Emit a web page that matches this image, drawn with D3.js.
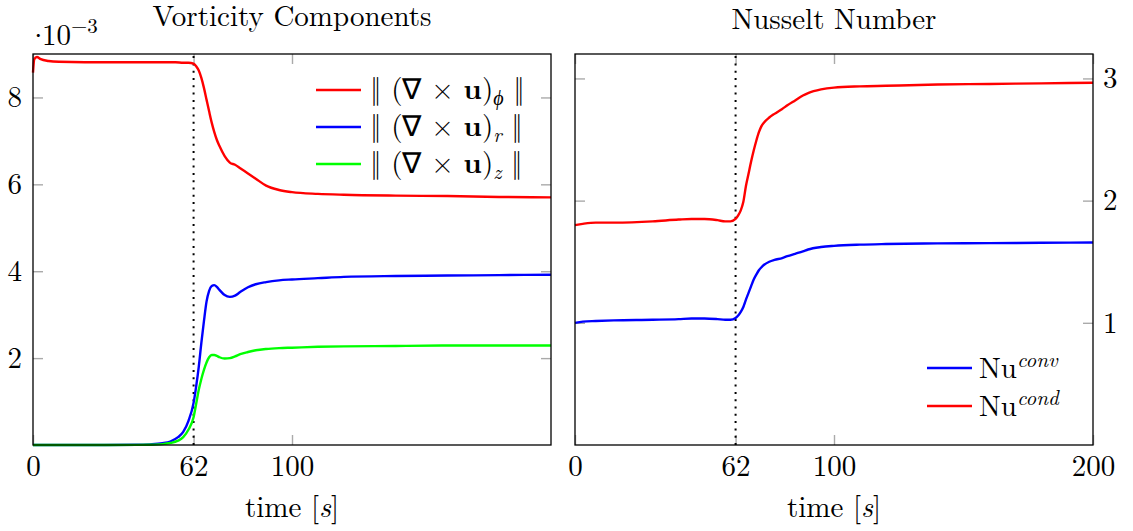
<!DOCTYPE html>
<html>
<head>
<meta charset="utf-8">
<script src="https://cdn.jsdelivr.net/npm/d3@7"></script>
<style>
  body { margin: 0; background: #fff; }
</style>
</head>
<body>
<svg id="chart" width="1133" height="531"></svg>
<script>
// vorticity components (values x 1e-3)
var vortTimePhi = [0, 0.5, 1.5, 3, 6, 10, 20, 30, 40, 50, 55, 58, 60, 62, 63, 64, 65, 66, 67, 68, 69, 70, 71, 72, 74, 76, 78, 80, 83, 86, 90, 95, 100, 110, 120, 140, 160, 180, 200];
var vortPhi = [8.57, 8.88, 8.93, 8.88, 8.84, 8.82, 8.81, 8.81, 8.81, 8.81, 8.81, 8.80, 8.80, 8.78, 8.72, 8.62, 8.45, 8.22, 7.95, 7.68, 7.42, 7.20, 7.02, 6.88, 6.65, 6.50, 6.45, 6.37, 6.25, 6.13, 5.97, 5.87, 5.82, 5.78, 5.76, 5.74, 5.73, 5.71, 5.70];
var vortTimeRZ = [0, 20, 40, 45, 50, 53, 56, 58, 60, 62, 63, 64, 65, 66, 67, 68, 69, 70, 71, 72, 74, 76, 78, 80, 83, 86, 90, 95, 100, 110, 120, 140, 160, 180, 200];
var vortR = [0, 0, 0.005, 0.015, 0.04, 0.08, 0.18, 0.30, 0.55, 0.97, 1.35, 1.80, 2.35, 2.85, 3.30, 3.55, 3.66, 3.68, 3.64, 3.57, 3.45, 3.41, 3.44, 3.52, 3.63, 3.70, 3.75, 3.79, 3.81, 3.84, 3.87, 3.89, 3.90, 3.91, 3.92];
var vortZ = [0, 0, 0.002, 0.006, 0.02, 0.045, 0.10, 0.18, 0.35, 0.64, 0.95, 1.27, 1.52, 1.73, 1.90, 2.02, 2.07, 2.07, 2.05, 2.02, 1.99, 2.00, 2.04, 2.09, 2.14, 2.18, 2.21, 2.23, 2.24, 2.26, 2.27, 2.28, 2.29, 2.29, 2.29];

// nusselt numbers
var nuTime = [0, 3, 8, 15, 30, 40, 45, 50, 55, 58, 60, 62, 63, 64, 65, 66, 67, 68, 69, 70, 71, 72, 73, 75, 77, 80, 82, 85, 88, 90, 95, 100, 110, 120, 140, 160, 180, 200];
var nuConv = [1.00, 1.01, 1.015, 1.02, 1.025, 1.03, 1.035, 1.035, 1.03, 1.025, 1.025, 1.04, 1.06, 1.09, 1.13, 1.19, 1.245, 1.30, 1.355, 1.395, 1.43, 1.455, 1.475, 1.50, 1.515, 1.53, 1.545, 1.565, 1.585, 1.60, 1.62, 1.63, 1.64, 1.645, 1.65, 1.652, 1.655, 1.657];
var nuCond = [1.80, 1.81, 1.82, 1.82, 1.83, 1.845, 1.85, 1.85, 1.84, 1.83, 1.83, 1.85, 1.88, 1.92, 1.99, 2.12, 2.22, 2.32, 2.41, 2.49, 2.56, 2.61, 2.64, 2.68, 2.71, 2.75, 2.78, 2.82, 2.86, 2.88, 2.91, 2.925, 2.935, 2.94, 2.95, 2.955, 2.96, 2.965];

var leftTicksX = [0, 62, 100];
var leftTicksY = [2, 4, 6, 8];
var rightTicksX = [0, 62, 100, 200];
var rightTicksY = [1, 2, 3];
var switchTime = 62;

var fontSize = 29;
var svg = d3.select("#chart")
    .style("font-family", "'Latin Modern Roman', 'Liberation Serif', serif");

function drawFrame(x, y, ticksX, ticksY, labelSide) {
    var g = svg.append("g");
    var x0 = x.range()[0], x1 = x.range()[1];
    var y0 = y.range()[0], y1 = y.range()[1];

    // tick marks: inside, gray, on all four sides
    var bottom = g.append("g").attr("transform", "translate(0," + y0 + ")")
        .call(d3.axisBottom(x).tickValues(ticksX).tickSizeInner(-10).tickSizeOuter(0).tickPadding(10).tickFormat(d3.format("d")));
    var top = g.append("g").attr("transform", "translate(0," + y1 + ")")
        .call(d3.axisTop(x).tickValues(ticksX).tickSizeInner(-10).tickSizeOuter(0).tickFormat(""));
    var left = g.append("g").attr("transform", "translate(" + x0 + ",0)")
        .call(d3.axisLeft(y).tickValues(ticksY).tickSizeInner(-10).tickSizeOuter(0).tickPadding(11).tickFormat(labelSide == "left" ? d3.format("d") : ""));
    var right = g.append("g").attr("transform", "translate(" + x1 + ",0)")
        .call(d3.axisRight(y).tickValues(ticksY).tickSizeInner(-10).tickSizeOuter(0).tickPadding(10).tickFormat(labelSide == "right" ? d3.format("d") : ""));

    [bottom, top, left, right].forEach(function (a) {
        a.attr("font-family", null).attr("font-size", null);
        a.select(".domain").remove();
        a.selectAll(".tick line").attr("stroke", "#aaa").attr("stroke-width", 1.4);
        a.selectAll(".tick text").style("font-size", fontSize + "px");
    });
    return g;
}

function drawBox(x, y) {
    svg.append("rect")
        .attr("x", x.range()[0])
        .attr("y", y.range()[1])
        .attr("width", x.range()[1] - x.range()[0])
        .attr("height", y.range()[0] - y.range()[1])
        .attr("fill", "none")
        .attr("stroke", "#000")
        .attr("stroke-width", 1.3);
}

function drawSwitch(x, y) {
    svg.append("line")
        .attr("x1", x(switchTime)).attr("x2", x(switchTime))
        .attr("y1", y.range()[0]).attr("y2", y.range()[1])
        .attr("stroke", "#000")
        .attr("stroke-width", 2)
        .attr("stroke-dasharray", "2,5.3");
}

function drawCurve(x, y, ts, vs, color) {
    var line = d3.line()
        .x(function (d, i) { return x(ts[i]); })
        .y(function (d) { return y(d); })
        .curve(d3.curveMonotoneX);
    svg.append("path")
        .datum(vs)
        .attr("d", line)
        .attr("fill", "none")
        .attr("stroke", color)
        .attr("stroke-width", 2.4)
        .attr("stroke-linejoin", "round");
}

function timeLabel(cx) {
    svg.append("text")
        .attr("x", cx).attr("y", 517)
        .attr("text-anchor", "middle")
        .style("font-size", fontSize + "px")
        .call(function (t) {
            t.append("tspan").text("time [");
            t.append("tspan").style("font-style", "italic").text("s");
            t.append("tspan").text("]");
        });
}

// ---------- left panel ----------
var xL = d3.scaleLinear().domain([0, 200]).range([33, 551]);
var yL = d3.scaleLinear().domain([0, 9]).range([445, 54]);

drawFrame(xL, yL, leftTicksX, leftTicksY, "left");
drawSwitch(xL, yL);
drawCurve(xL, yL, vortTimePhi, vortPhi, "#ff0000");
drawCurve(xL, yL, vortTimeRZ, vortR, "#0000ff");
drawCurve(xL, yL, vortTimeRZ, vortZ, "#00ff00");
drawBox(xL, yL);

svg.append("text")
    .attr("x", 292).attr("y", 26)
    .attr("text-anchor", "middle")
    .style("font-size", fontSize + "px")
    .text("Vorticity Components");

// scale label  ·10^-3
var sc = svg.append("text").attr("y", 45).style("font-size", fontSize + "px");
sc.append("tspan").attr("x", 27).text("·");
sc.append("tspan").attr("x", 42).text("10");
sc.append("tspan").attr("dy", -12).style("font-size", "21px").text("−3");

timeLabel(292);

// legend
var legL = [
    { color: "#ff0000", sub: "ϕ" },
    { color: "#0000ff", sub: "r" },
    { color: "#00ff00", sub: "z" }
];
legL.forEach(function (d, i) {
    var ly = 90 + i * 37;
    svg.append("line")
        .attr("x1", 316).attr("x2", 361)
        .attr("y1", ly).attr("y2", ly)
        .attr("stroke", d.color).attr("stroke-width", 2.4);
    var t = svg.append("text").attr("x", 370).attr("y", ly + 9).style("font-size", fontSize + "px");
    t.append("tspan").text("‖ (∇ × ");
    t.append("tspan").style("font-weight", "bold").text("u");
    t.append("tspan").text(")");
    t.append("tspan").attr("dy", 6).style("font-size", "20px").style("font-style", "italic").text(d.sub);
    t.append("tspan").attr("dy", -6).text(" ‖");
});

// ---------- right panel ----------
var xR = d3.scaleLinear().domain([0, 200]).range([575, 1093]);
var yR = d3.scaleLinear().domain([0, 3.2]).range([445, 54]);

drawFrame(xR, yR, rightTicksX, rightTicksY, "right");
drawSwitch(xR, yR);
drawCurve(xR, yR, nuTime, nuConv, "#0000ff");
drawCurve(xR, yR, nuTime, nuCond, "#ff0000");
drawBox(xR, yR);

svg.append("text")
    .attr("x", 834).attr("y", 29)
    .attr("text-anchor", "middle")
    .style("font-size", fontSize + "px")
    .text("Nusselt Number");

timeLabel(834);

var legR = [
    { color: "#0000ff", sup: "conv" },
    { color: "#ff0000", sup: "cond" }
];
legR.forEach(function (d, i) {
    var ly = 368 + i * 38;
    svg.append("line")
        .attr("x1", 927).attr("x2", 972)
        .attr("y1", ly).attr("y2", ly)
        .attr("stroke", d.color).attr("stroke-width", 2.4);
    var t = svg.append("text").attr("x", 979).attr("y", ly + 10).style("font-size", fontSize + "px");
    t.append("tspan").text("Nu");
    t.append("tspan").attr("dy", -11).style("font-size", "21px").style("font-style", "italic").text(d.sup);
});
</script>
</body>
</html>
